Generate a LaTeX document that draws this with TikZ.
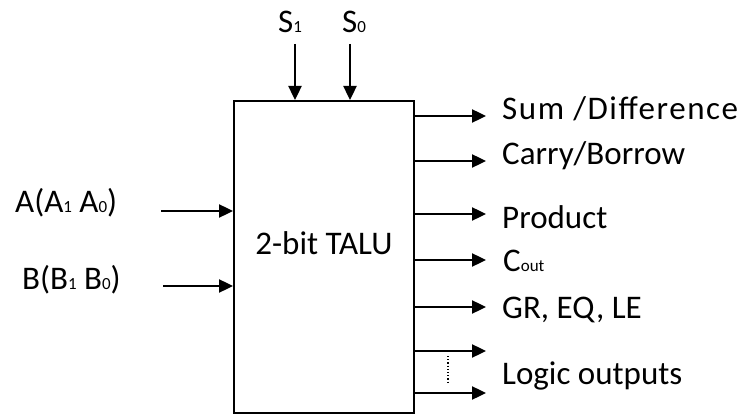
\documentclass[tikz,border=0pt]{standalone}
\usepackage{fontspec}
\setmainfont{Carlito}
\usetikzlibrary{arrows.meta}
\newcommand{\lo}[1]{{\fontsize{17}{17}\selectfont #1}}
\begin{document}
\begin{tikzpicture}[x=1pt, y=-1pt, >={Triangle[length=14pt,width=13pt]},
        wire/.style={line width=2.4pt, ->},
        lbl/.style={anchor=base west, inner sep=0pt, font=\fontsize{33}{36}\selectfont}]
        \useasboundingbox (0,0) rectangle (750,414);
        % the unit
        \node[draw, line width=2.4pt, minimum width=180pt, minimum height=312pt, inner sep=0pt, anchor=north west] (alu) at (233,100) {};
        \node[lbl, anchor=center] (name) at (324,243) {2-bit TALU};
        % select lines
        \node[lbl] (s1) at (278,33) {S\lo{1}};
        \node[lbl] (s0) at (342,33) {S\lo{0}};
        \coordinate (s1in) at (295,44);
        \coordinate (s0in) at (350,44);
        \draw[wire] (s1in) -- (s1in |- alu.north);
        \draw[wire] (s0in) -- (s0in |- alu.north);
        % operands
        \node[lbl] (a) at (15,213) {A(A\lo{1} A\lo{0})};
        \node[lbl] (b) at (22,290) {B(B\lo{1} B\lo{0})};
        \coordinate (ain) at (161,211);
        \coordinate (bin) at (163,286);
        \draw[wire] (ain) -- (ain -| alu.west);
        \draw[wire] (bin) -- (bin -| alu.west);
        % outputs
        \node[lbl] (sum) at (502,120) {\addfontfeature{LetterSpace=4.8}Sum /Difference};
        \node[lbl] (carry) at (502,165) {Carry/Borrow};
        \node[lbl] (prod) at (502,229) {Product};
        \node[lbl] (cout) at (503,272) {C\lo{out}};
        \node[lbl] (cmp) at (502,318) {GR, EQ, LE};
        \node[lbl] (logic) at (502,384) {Logic outputs};
        \coordinate (sumo) at (486,116);
        \coordinate (carryo) at (486,161);
        \coordinate (prodo) at (486,214);
        \coordinate (couto) at (486,260);
        \coordinate (cmpo) at (486,307);
        \coordinate (logico1) at (486,351);
        \coordinate (logico2) at (486,393);
        \draw[wire] (sumo -| alu.east) -- (sumo);
        \draw[wire] (carryo -| alu.east) -- (carryo);
        \draw[wire] (prodo -| alu.east) -- (prodo);
        \draw[wire] (couto -| alu.east) -- (couto);
        \draw[wire] (cmpo -| alu.east) -- (cmpo);
        \draw[wire] (logico1 -| alu.east) -- (logico1);
        \draw[wire] (logico2 -| alu.east) -- (logico2);
        \coordinate (dottop) at (448,356);
        \coordinate (dotbot) at (448,382);
        \draw[line width=1.2pt, dotted] (dottop) -- (dotbot);
\end{tikzpicture}
\end{document}
